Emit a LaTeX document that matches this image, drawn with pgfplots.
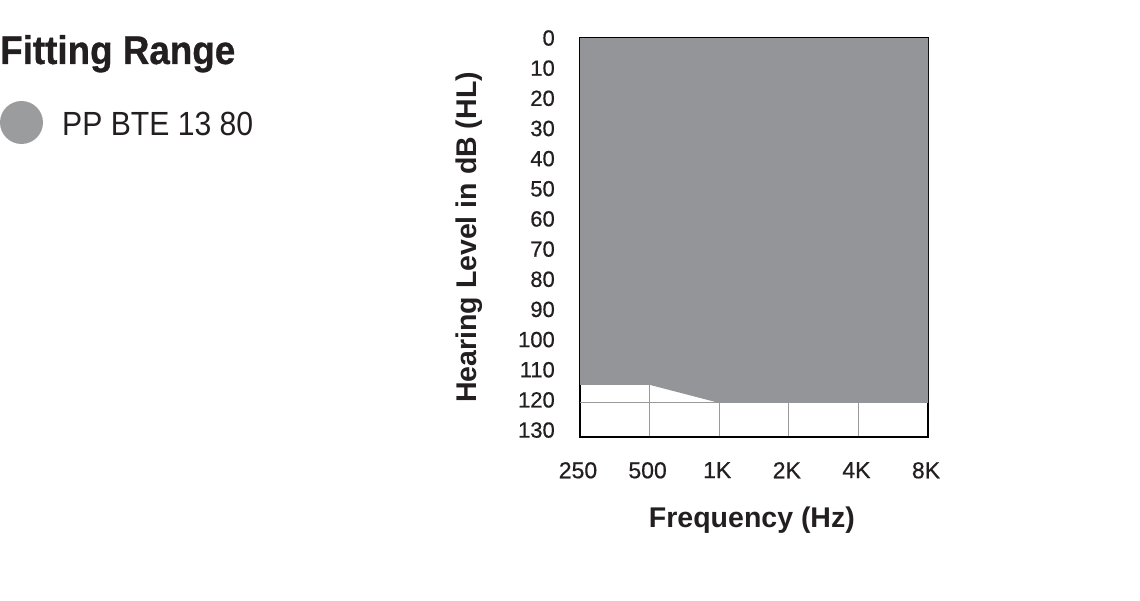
\documentclass[border=0pt]{standalone}
\usepackage{pgfplots}
\pgfplotsset{compat=1.18}
\usepackage{fontspec}
\setmainfont{Liberation Sans}
\newfontfamily\tickfont[FakeBold=0.6]{Liberation Sans}
\newfontfamily\titlefont[FakeBold=0.8]{Liberation Sans Bold}
\definecolor{fillgray}{HTML}{939598}
\definecolor{dotgray}{HTML}{9B9C9E}
\definecolor{gridgray}{HTML}{9A9A9A}
\definecolor{txt}{HTML}{231F20}
\begin{document}
\begin{tikzpicture}[x=1pt,y=1pt]
\path (0,0) rectangle (1140,600);
\node[anchor=base west, inner sep=0, text=txt] at (0,536) {\scalebox{0.92}[1]{\fontsize{40}{42}\titlefont Fitting Range}};
\fill[dotgray] (21.5,477.5) circle (21.5);
\node[anchor=base west, inner sep=0, text=txt] at (62,464.5) {\scalebox{0.9}[1]{\fontsize{33.5}{35}\selectfont PP BTE 13 80}};
\begin{axis}[
  at={(580pt,163pt)}, anchor=south west,
  scale only axis, width=348pt, height=399pt,
  xmin=0, xmax=5, ymin=0, ymax=132.3, y dir=reverse,
  xtick={0,1,2,3,4,5},
  xticklabels={250,500,1K,2K,4K,8K},
  ytick={0,10,20,30,40,50,60,70,80,90,100,110,120,130},
  extra y ticks={121}, extra y tick labels={},
  extra y tick style={ymajorgrids=true, major grid style={gridgray, line width=1pt}},
  xmajorgrids=true,
  major grid style={gridgray, line width=1pt},
  major tick length=0pt,
  axis line style={black, line width=1.8pt},
  tick label style={text=txt},
  yticklabel style={font=\fontsize{22}{24}\tickfont, anchor=east, inner sep=0pt, xshift=-25pt},
  xticklabel style={font=\fontsize{23}{25}\tickfont, anchor=north, inner sep=0pt, yshift=-25pt, xshift=-2pt},
  /pgf/number format/assume math mode=true,
  xlabel={\bfseries Frequency (Hz)},
  ylabel={\bfseries Hearing Level in dB (HL)},
  label style={font=\fontsize{28.5}{30}\selectfont, text=txt},
  xlabel style={at={(axis description cs:0.494,-0.2263)}, anchor=base},
  ylabel style={at={(axis description cs:-0.297,0.5)}, anchor=base},
]
\addplot[fill=fillgray, draw=none] coordinates {(0,0) (0,115) (1,115) (2,121) (5,121) (5,0)} -- cycle;
\end{axis}
\end{tikzpicture}
\end{document}
